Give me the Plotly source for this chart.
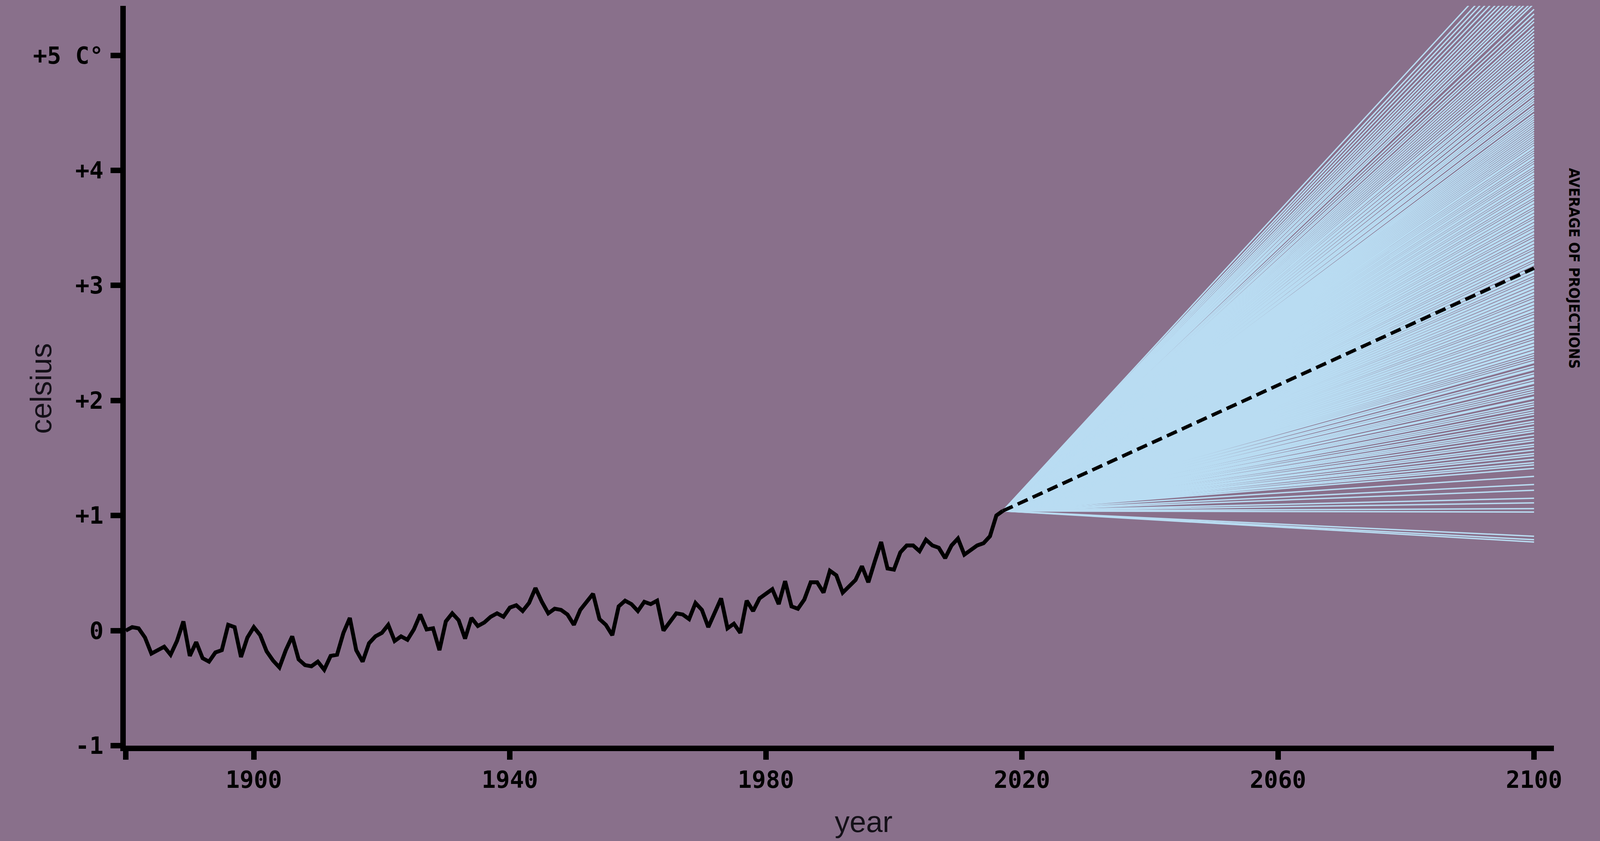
import plotly.graph_objects as go

# ---------------- data ----------------
hist_years = list(range(1880, 2018))
hist_temp = [
    0.00, 0.03, 0.02, -0.06, -0.20, -0.17, -0.14, -0.21, -0.09, 0.08,
    -0.22, -0.10, -0.24, -0.27, -0.19, -0.17, 0.05, 0.03, -0.23, -0.06,
    0.03, -0.04, -0.18, -0.26, -0.32, -0.17, -0.05, -0.25, -0.30, -0.31,
    -0.27, -0.34, -0.22, -0.21, -0.02, 0.11, -0.17, -0.27, -0.11, -0.05,
    -0.02, 0.05, -0.09, -0.05, -0.08, 0.01, 0.14, 0.01, 0.02, -0.17,
    0.08, 0.15, 0.09, -0.07, 0.11, 0.04, 0.07, 0.12, 0.15, 0.12,
    0.20, 0.22, 0.17, 0.24, 0.37, 0.25, 0.15, 0.19, 0.18, 0.14,
    0.05, 0.18, 0.25, 0.32, 0.10, 0.05, -0.04, 0.21, 0.26, 0.23,
    0.17, 0.25, 0.23, 0.26, 0.00, 0.08, 0.15, 0.14, 0.10, 0.24,
    0.18, 0.03, 0.15, 0.28, 0.02, 0.06, -0.02, 0.26, 0.17, 0.28,
    0.32, 0.36, 0.23, 0.43, 0.21, 0.19, 0.27, 0.42, 0.42, 0.33,
    0.52, 0.48, 0.33, 0.38, 0.44, 0.56, 0.42, 0.60, 0.77, 0.54,
    0.53, 0.68, 0.74, 0.74, 0.69, 0.79, 0.74, 0.72, 0.63, 0.74,
    0.80, 0.66, 0.70, 0.74, 0.76, 0.82, 1.00, 1.04,
]

proj_years = [2017, 2100]
proj_end_temp = [
    0.77, 0.79, 0.82, 1.03, 1.06, 1.11, 1.15, 1.22, 1.27, 1.34,
    1.41, 1.44, 1.46, 1.49, 1.52, 1.54, 1.57, 1.60, 1.62, 1.65,
    1.67, 1.70, 1.73, 1.75, 1.77, 1.80, 1.82, 1.85, 1.88, 1.90,
    1.92, 1.95, 1.97, 1.99,
    2.02, 2.03, 2.06, 2.08, 2.10, 2.12, 2.15, 2.16, 2.18, 2.21,
    2.22, 2.24, 2.27, 2.28, 2.30, 2.33, 2.34, 2.36, 2.38, 2.40,
    2.42, 2.43, 2.45, 2.46, 2.48, 2.49,
    2.51, 2.52, 2.54, 2.56, 2.57, 2.59, 2.60, 2.62, 2.63, 2.65,
    2.67, 2.68, 2.70, 2.71, 2.73, 2.74, 2.76, 2.78, 2.79, 2.81,
    2.82, 2.84, 2.85, 2.87, 2.88, 2.90, 2.92, 2.93, 2.95, 2.96,
    2.98, 2.99,
    3.01, 3.02, 3.04, 3.05, 3.07, 3.09, 3.10, 3.12, 3.13, 3.15,
    3.16, 3.18, 3.19, 3.21, 3.23, 3.24, 3.26, 3.27, 3.29, 3.30,
    3.32, 3.34, 3.35, 3.37, 3.38, 3.40, 3.41, 3.43, 3.45, 3.46,
    3.48, 3.49,
    3.51, 3.53, 3.54, 3.56, 3.57, 3.59, 3.61, 3.62, 3.64, 3.65,
    3.67, 3.69, 3.70, 3.72, 3.73, 3.75, 3.77, 3.78, 3.80, 3.82,
    3.83, 3.85, 3.87, 3.88, 3.90, 3.92, 3.93, 3.95, 3.97, 3.98,
    4.00, 4.02, 4.04, 4.05, 4.07, 4.09, 4.11, 4.12, 4.14, 4.16,
    4.18, 4.20, 4.21, 4.23, 4.25, 4.27, 4.29, 4.31, 4.33, 4.35,
    4.37, 4.39, 4.41, 4.43, 4.45, 4.47, 4.49,
    4.52, 4.54, 4.56, 4.59, 4.61, 4.63, 4.66, 4.68, 4.70, 4.73,
    4.75, 4.78, 4.80, 4.83, 4.85, 4.88, 4.90, 4.93, 4.96, 4.98,
    5.01, 5.04, 5.07, 5.10, 5.13, 5.16, 5.19, 5.22, 5.25, 5.29,
    5.32, 5.36, 5.40,
    5.45, 5.48, 5.52, 5.55, 5.59, 5.62, 5.66, 5.70, 5.74, 5.78,
    5.83, 5.88, 5.93, 5.98, 6.05,
]

avg_years = [2017, 2100]
avg_temp = [1.04, 3.15]

x_tick_vals = [1880, 1900, 1940, 1980, 2020, 2060, 2100]
x_tick_text = ["", "1900", "1940", "1980", "2020", "2060", "2100"]
y_tick_vals = [-1, 0, 1, 2, 3, 4, 5]
y_tick_text = ["-1", "0", "+1", "+2", "+3", "+4", "+5 C°"]

# ---------------- styling ----------------
BG = "#89708b"
BLUE = "#b9dcf2"
INK = "#000000"
L, R, T, B = 322, 118, 15, 244

# projection fan as one trace (segments separated by None)
px, py = [], []
start_val = hist_temp[-1]
for end in proj_end_temp:
    px += [proj_years[0], proj_years[1], None]
    py += [start_val, end, None]

fig = go.Figure()
fig.add_trace(go.Scatter(x=px, y=py, mode="lines",
                         line=dict(color=BLUE, width=3.5), hoverinfo="skip",
                         showlegend=False, connectgaps=False))
fig.add_trace(go.Scatter(x=avg_years, y=avg_temp, mode="lines",
                         line=dict(color=INK, width=9, dash="28px,14px"),
                         showlegend=False))
fig.add_trace(go.Scatter(x=hist_years, y=hist_temp, mode="lines",
                         line=dict(color=INK, width=10), showlegend=False))

tick_font = dict(family="DejaVu Sans Mono", size=60, color=INK, weight="bold")

fig.update_layout(
    autosize=True,
    paper_bgcolor=BG, plot_bgcolor=BG,
    margin=dict(l=L, r=R, t=T, b=B),
    xaxis=dict(range=[1880, 2103.1], showgrid=False, zeroline=False,
               showline=True, linecolor=INK, linewidth=14,
               ticks="outside", ticklen=22, tickwidth=14, tickcolor=INK,
               tickvals=x_tick_vals, ticktext=x_tick_text,
               tickfont=tick_font),
    yaxis=dict(range=[-1, 5.43], showgrid=False, zeroline=False,
               showline=True, linecolor=INK, linewidth=14,
               ticks="outside", ticklen=25, tickwidth=14, tickcolor=INK,
               tickvals=y_tick_vals, ticktext=y_tick_text,
               tickfont=tick_font, ticklabelstandoff=6),
    annotations=[
        dict(text="celsius", xref="paper", yref="paper",
             x=-0.0594, y=0.4826,
             textangle=-90, showarrow=False, xanchor="center", yanchor="middle",
             font=dict(family="Liberation Sans", size=76, color="#141018")),
        dict(text="year", xref="paper", yref="paper",
             x=0.5167, y=-0.1265,
             showarrow=False, xanchor="center", yanchor="bottom",
             font=dict(family="Liberation Sans", size=76, color="#141018")),
        dict(text="AVERAGE OF PROJECTIONS", xref="paper", yref="y",
             x=1.0141, y=avg_temp[-1],
             textangle=90, showarrow=False, xanchor="center", yanchor="middle",
             font=dict(family="Liberation Sans Narrow, DejaVu Sans Condensed, Roboto",
                       size=38, color=INK, weight="bold")),
    ],
)

fig.write_html(
    "out.html",
    default_width="100vw",
    default_height="100vh",
    config={"responsive": True, "displayModeBar": False},
    post_script="document.body.style.margin='0';document.body.style.overflow='hidden';",
)
